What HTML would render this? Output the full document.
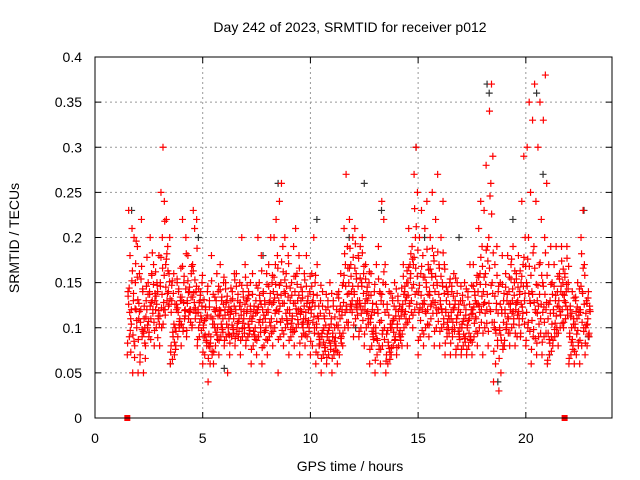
<!DOCTYPE html>
<html><head><meta charset="utf-8"><style>
body{margin:0;background:#fff}
svg{display:block;font-family:"Liberation Sans",sans-serif}
</style></head><body>
<svg id="chart" width="640" height="480" viewBox="0 0 640 480">
<rect width="640" height="480" fill="#fff"/>
<text x="350" y="32" font-size="14" text-anchor="middle">Day 242 of 2023, SRMTID for receiver p012</text>
<text transform="translate(19,238) rotate(-90)" font-size="14" text-anchor="middle">SRMTID / TECUs</text>
<text x="350" y="471" font-size="14" text-anchor="middle">GPS time / hours</text>
<g id="grid"></g><g id="ticks"></g><g id="black"></g><g id="red"></g>
<rect x="95" y="57" width="517" height="361" fill="none" stroke="#000" stroke-width="1"/>
</svg>
<script>
const xTicks=[0,5,10,15,20];
const yTicks=[0,0.05,0.1,0.15,0.2,0.25,0.3,0.35,0.4];
const yTickLabels=["0","0.05","0.1","0.15","0.2","0.25","0.3","0.35","0.4"];
const binHours=[1.5,1.75,2,2.25,2.5,2.75,3,3.25,3.5,3.75,4,4.25,4.5,4.75,5,5.25,5.5,5.75,6,6.25,6.5,6.75,7,7.25,7.5,7.75,8,8.25,8.5,8.75,9,9.25,9.5,9.75,10,10.25,10.5,10.75,11,11.25,11.5,11.75,12,12.25,12.5,12.75,13,13.25,13.5,13.75,14,14.25,14.5,14.75,15,15.25,15.5,15.75,16,16.25,16.5,16.75,17,17.25,17.5,17.75,18,18.25,18.5,18.75,19,19.25,19.5,19.75,20,20.25,20.5,20.75,21,21.25,21.5,21.75,22,22.25,22.5,22.75];
const redBins=[
[.07,.09,.12,.14,.18,.21,.23,.11],[.05,.08,.10,.13,.15,.19,.2,.12],[.05,.07,.09,.11,.12,.14,.16,.22],[.05,.08,.10,.11,.13,.15,.10,.12],
[.09,.11,.12,.14,.16,.17,.2,.13],[.08,.10,.11,.13,.15,.18,.12,.14],[.08,.10,.12,.15,.2,.24,.25,.30],[.12,.13,.16,.17,.19,.2,.22,.14],
[.06,.065,.07,.08,.09,.1,.13,.16],[.08,.09,.11,.12,.14,.13,.15,.1],[.08,.1,.12,.13,.15,.2,.22,.11],[.09,.11,.12,.13,.14,.16,.18,.12],
[.1,.12,.14,.17,.21,.22,.23,.11],[.08,.09,.11,.12,.13,.15,.10,.14],[.06,.07,.08,.1,.12,.14,.09,.11],[.04,.06,.07,.08,.09,.11,.13,.18],
[.06,.08,.1,.12,.13,.14,.1,.16],[.07,.09,.11,.12,.13,.15,.17,.1],[.08,.09,.1,.12,.13,.11,.15,.05],[.07,.09,.11,.12,.14,.16,.13,.1],
[.08,.1,.11,.12,.13,.15,.16,.09],[.07,.09,.1,.12,.14,.17,.2,.11],[.08,.09,.11,.13,.14,.15,.12,.1],[.06,.08,.1,.11,.12,.13,.16,.09],
[.07,.09,.1,.12,.15,.18,.2,.13],[.06,.08,.1,.12,.13,.16,.14,.11],[.07,.09,.11,.12,.13,.15,.17,.2],[.08,.1,.12,.14,.17,.18,.2,.22],
[.05,.09,.11,.13,.15,.19,.24,.26],[.08,.1,.12,.14,.16,.18,.2,.11],[.07,.09,.1,.12,.15,.19,.13,.11],[.08,.1,.12,.14,.16,.18,.21,.13],
[.07,.09,.11,.12,.14,.16,.13,.1],[.08,.09,.1,.11,.13,.14,.18,.12],[.07,.08,.1,.12,.13,.15,.16,.2],[.06,.07,.09,.1,.11,.13,.17,.08],
[.05,.07,.08,.09,.1,.12,.14,.11],[.06,.07,.08,.09,.1,.11,.13,.15],[.05,.07,.08,.09,.1,.12,.13,.08],[.06,.07,.09,.1,.11,.12,.14,.16],
[.08,.1,.12,.15,.17,.19,.21,.27],[.1,.12,.13,.15,.17,.2,.22,.14],[.09,.11,.13,.14,.16,.18,.21,.12],[.09,.1,.12,.13,.15,.16,.19,.2],
[.08,.1,.11,.12,.14,.15,.17,.13],[.06,.08,.1,.11,.12,.14,.16,.09],[.05,.07,.08,.1,.12,.14,.17,.19],[.06,.08,.1,.13,.15,.17,.24,.22],
[.05,.06,.065,.07,.08,.1,.12,.14],[.07,.08,.09,.1,.11,.12,.13,.15],[.07,.08,.09,.1,.11,.12,.13,.09],[.08,.1,.11,.12,.14,.15,.17,.13],
[.08,.11,.13,.15,.17,.19,.21,.16],[.1,.12,.14,.17,.2,.25,.27,.3],[.07,.09,.12,.14,.16,.18,.2,.23],[.08,.1,.12,.13,.15,.17,.21,.24],
[.09,.11,.13,.14,.16,.18,.2,.25],[.08,.1,.12,.14,.15,.17,.22,.27],[.08,.1,.11,.13,.15,.17,.2,.24],[.07,.09,.11,.12,.14,.15,.13,.1],
[.07,.09,.1,.11,.12,.13,.14,.16],[.07,.08,.1,.11,.12,.13,.15,.09],[.07,.08,.09,.1,.11,.12,.13,.15],[.07,.08,.09,.1,.11,.12,.14,.17],
[.07,.09,.11,.12,.14,.15,.17,.13],[.08,.1,.12,.14,.16,.19,.21,.24],[.07,.1,.12,.14,.16,.19,.23,.28],[.08,.12,.15,.2,.26,.29,.34,.37],
[.04,.06,.08,.1,.12,.14,.17,.19],[.03,.05,.08,.1,.12,.13,.15,.18],[.08,.1,.11,.12,.13,.14,.16,.18],[.08,.1,.11,.12,.13,.15,.17,.19],
[.08,.09,.11,.12,.13,.14,.16,.18],[.09,.11,.13,.15,.17,.2,.24,.29],[.08,.1,.13,.15,.2,.25,.3,.35],[.06,.09,.12,.14,.19,.24,.33,.37],
[.07,.09,.11,.13,.17,.22,.3,.35],[.07,.09,.12,.15,.2,.26,.33,.38],[.06,.07,.09,.11,.13,.15,.17,.19],[.08,.09,.1,.12,.13,.14,.17,.19],
[.08,.1,.12,.13,.14,.15,.16,.19],[.1,.11,.12,.13,.14,.15,.16,.19],[.06,.07,.08,.09,.1,.11,.12,.14],[.06,.07,.08,.1,.11,.12,.13,.15],
[.06,.08,.1,.12,.14,.17,.2,.23],[.07,.08,.09,.1,.11,.12,.13,.14]];
const redBins2=[
[.083,.104,.117,.135,.152,.097,.126,.163,.073,.144],[.092,.108,.121,.138,.156,.171,.085,.131,.196,.067],[.087,.098,.106,.127,.143,.154,.118,.096,.168,.062],[.094,.103,.112,.124,.137,.146,.083,.107,.178,.066],
[.095,.116,.128,.137,.148,.158,.124,.106,.183,.087],[.097,.113,.126,.138,.119,.147,.162,.104,.089,.135],[.113,.128,.137,.146,.158,.166,.178,.218,.104,.122],[.114,.126,.138,.145,.151,.163,.176,.132,.124,.182],
[.073,.084,.095,.117,.126,.138,.147,.076,.104,.152],[.096,.103,.117,.126,.134,.143,.154,.166,.107,.122],[.104,.113,.128,.134,.143,.157,.168,.182,.119,.096],[.097,.106,.118,.127,.134,.145,.152,.168,.117,.139],
[.103,.116,.128,.134,.146,.153,.163,.188,.122,.139],[.087,.097,.106,.117,.124,.136,.143,.158,.113,.128],[.073,.084,.092,.103,.114,.123,.131,.146,.086,.108],[.066,.074,.083,.093,.104,.112,.123,.137,.152,.079],
[.073,.087,.095,.104,.113,.122,.134,.146,.092,.118],[.086,.095,.104,.114,.126,.134,.142,.156,.098,.119],[.086,.093,.104,.114,.123,.135,.143,.092,.117,.128],[.083,.094,.103,.115,.124,.132,.144,.153,.098,.118],
[.088,.096,.105,.116,.124,.137,.146,.128,.107,.093],[.086,.094,.105,.114,.126,.134,.147,.156,.118,.099],[.086,.097,.104,.116,.124,.136,.147,.118,.093,.132],[.076,.087,.096,.107,.116,.124,.137,.147,.092,.113],
[.086,.095,.106,.117,.126,.136,.144,.163,.109,.123],[.078,.087,.095,.106,.117,.126,.138,.148,.097,.114],[.086,.094,.106,.117,.126,.138,.146,.158,.102,.128],[.096,.107,.116,.128,.137,.148,.156,.166,.119,.133],
[.087,.097,.106,.118,.127,.136,.147,.162,.173,.124],[.093,.104,.116,.127,.134,.146,.153,.171,.108,.138],[.086,.095,.105,.116,.127,.136,.144,.157,.113,.098],[.096,.104,.116,.127,.136,.148,.157,.166,.109,.121],
[.083,.094,.104,.115,.124,.133,.145,.153,.106,.118],[.092,.096,.104,.117,.123,.135,.146,.157,.108,.127],[.085,.094,.106,.116,.124,.137,.146,.158,.112,.128],[.073,.082,.093,.104,.116,.124,.136,.147,.087,.113],
[.066,.074,.084,.094,.103,.113,.124,.137,.078,.097],[.067,.076,.086,.093,.104,.116,.123,.138,.083,.097],[.066,.075,.085,.094,.103,.112,.124,.137,.089,.074],[.073,.083,.094,.103,.114,.124,.133,.147,.088,.118],
[.094,.106,.117,.128,.137,.146,.158,.166,.124,.182],[.106,.117,.126,.138,.146,.157,.166,.178,.124,.188],[.103,.114,.126,.137,.146,.154,.166,.177,.122,.193],[.096,.108,.116,.127,.138,.146,.155,.168,.183,.124],
[.093,.104,.116,.127,.136,.145,.154,.162,.118,.132],[.076,.087,.096,.106,.117,.127,.136,.148,.093,.114],[.064,.076,.086,.094,.106,.116,.126,.138,.154,.088],[.076,.087,.097,.108,.117,.126,.137,.148,.162,.093],
[.063,.073,.084,.093,.104,.114,.126,.138,.077,.097],[.078,.087,.095,.104,.113,.124,.133,.143,.086,.108],[.078,.086,.093,.104,.113,.124,.135,.144,.097,.118],[.093,.104,.115,.126,.134,.146,.157,.163,.118,.137],
[.106,.117,.127,.136,.144,.155,.167,.176,.182,.124],[.114,.126,.137,.148,.157,.166,.178,.186,.212,.232],[.086,.097,.108,.117,.127,.136,.147,.156,.168,.122],[.093,.104,.116,.126,.137,.145,.156,.164,.187,.118],
[.103,.116,.126,.136,.147,.156,.165,.174,.188,.124],[.096,.107,.116,.128,.137,.147,.157,.166,.184,.122],[.096,.104,.117,.126,.138,.146,.157,.165,.183,.121],[.083,.094,.106,.117,.126,.137,.145,.154,.113,.098],
[.083,.096,.106,.117,.126,.135,.146,.155,.122,.098],[.076,.087,.096,.106,.117,.126,.138,.146,.093,.114],[.076,.084,.093,.104,.114,.125,.136,.143,.088,.107],[.076,.086,.094,.103,.115,.126,.134,.147,.087,.108],
[.084,.096,.105,.116,.127,.136,.146,.158,.112,.123],[.094,.106,.117,.126,.135,.148,.156,.168,.178,.124],[.094,.105,.116,.126,.137,.148,.156,.174,.186,.128],[.096,.106,.118,.127,.138,.147,.166,.183,.226,.246],
[.074,.086,.094,.106,.116,.127,.135,.146,.158,.098],[.066,.076,.086,.097,.106,.116,.126,.138,.148,.092],[.086,.094,.104,.116,.126,.137,.145,.156,.112,.098],[.094,.104,.116,.127,.136,.143,.154,.163,.118,.176],
[.094,.103,.114,.126,.137,.145,.154,.163,.118,.128],[.094,.104,.116,.126,.138,.146,.157,.168,.178,.123],[.086,.096,.106,.117,.127,.138,.146,.158,.168,.176],[.076,.088,.098,.108,.117,.128,.137,.148,.166,.183],
[.083,.094,.104,.116,.126,.137,.147,.158,.172,.124],[.084,.094,.106,.117,.128,.137,.146,.158,.183,.123],[.064,.074,.083,.094,.104,.116,.126,.137,.148,.087],[.086,.094,.105,.116,.124,.136,.146,.157,.113,.098],
[.094,.105,.114,.123,.137,.146,.154,.165,.174,.118],[.106,.114,.124,.136,.143,.148,.156,.168,.177,.128],[.066,.076,.084,.094,.104,.116,.124,.133,.087,.112],[.074,.084,.093,.104,.114,.123,.134,.143,.097,.118],
[.086,.096,.106,.117,.126,.138,.146,.158,.166,.182],[.083,.094,.104,.116,.124,.133,.103,.118,.092,.127]];
const blackTimes=[1.7,3.5,4.8,6.0,8.5,10.3,11.8,12.5,13.3,14.9,15.3,16.9,18.2,18.3,18.7,20.5,20.8,21.1,22.7,22.9,12.1,7.8,19.4];
const blackValues=[0.23,0.06,0.2,0.055,0.26,0.22,0.2,0.26,0.23,0.3,0.2,0.2,0.37,0.36,0.04,0.36,0.27,0.07,0.23,0.09,0.1,0.18,0.22];
const markerTimes=[1.5,21.8];
const markerValues=[0,0];

const NS="http://www.w3.org/2000/svg";
const X=h=>95+h*(517/24);
const Y=v=>418-v*902.5;
function mk(tag,parent,attrs){const e=document.createElementNS(NS,tag);for(const k in attrs)e.setAttribute(k,attrs[k]);parent.appendChild(e);return e;}
const grid=document.getElementById('grid'),ticks=document.getElementById('ticks');
xTicks.forEach(t=>{
 if(t>0){const g=mk('line',grid,{x1:X(t),x2:X(t),y1:57,y2:418,stroke:'#999','stroke-dasharray':'2,3'});
 
 }
 mk('line',ticks,{x1:X(t),x2:X(t),y1:418,y2:412,stroke:'#000'});
 mk('line',ticks,{x1:X(t),x2:X(t),y1:57,y2:63,stroke:'#000'});
 const l=mk('text',ticks,{x:X(t),y:443,'font-size':14,'text-anchor':'middle'});l.textContent=t;
 
 
});
yTicks.forEach((t,i)=>{
 if(t>0&&t<0.4){const g=mk('line',grid,{x1:95,x2:612,y1:Y(t),y2:Y(t),stroke:'#999','stroke-dasharray':'2,3'});
 
 }
 mk('line',ticks,{x1:95,x2:101,y1:Y(t),y2:Y(t),stroke:'#000'});
 mk('line',ticks,{x1:612,x2:606,y1:Y(t),y2:Y(t),stroke:'#000'});
 const l=mk('text',ticks,{x:82,y:Y(t)+5,'font-size':14,'text-anchor':'end'});l.textContent=yTickLabels[i];
 
 
});
function plus(parent,h,v,col){
 return mk('path',parent,{d:`M${X(h)-3.5},${Y(v)}h7M${X(h)},${Y(v)-3.5}v7`,stroke:col,'stroke-width':1.2,fill:'none'});
}
const bg=document.getElementById('black'),rg=document.getElementById('red');
blackTimes.forEach((h,i)=>{
 const p=plus(bg,h,blackValues[i],'#333');
 
 
});
redBins.forEach((vals,b)=>{
 vals.forEach((v,i)=>{
  const h=binHours[b]+((i*3)%8)/8*0.25;
  const p=plus(rg,h,v,'#f00');
  
  
 });
});
redBins2.forEach((vals,b)=>{
 vals.forEach((v,i)=>{
  const h=binHours[b]+0.012+((i*7)%10)/10*0.25;
  const p=plus(rg,h,v,'#f00');
  
  
 });
});
markerTimes.forEach((h,i)=>{
 const r=mk('rect',rg,{x:X(h)-3,y:Y(markerValues[i])-3,width:6,height:6,fill:'#f00'});
 
 
});
</script>
</body></html>
